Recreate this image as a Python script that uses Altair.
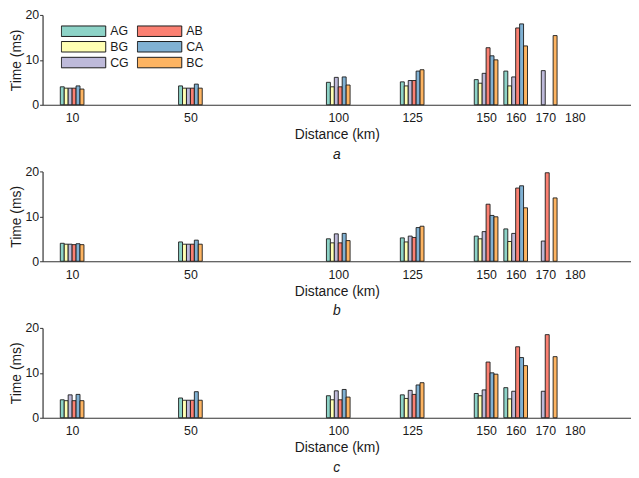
import altair as alt
import pandas as pd

distances = [10, 50, 100, 125, 150, 160, 170]
tick_values = [10, 50, 100, 125, 150, 160, 170, 180]
series = ["AG", "BG", "CG", "AB", "CA", "BC"]
colors = {"AG": "#8dd3c7", "BG": "#ffffb3", "CG": "#bebada",
          "AB": "#fb8072", "CA": "#80b1d3", "BC": "#fdb462"}

# panel a
a_AG = [4.0, 4.2, 5.0, 5.1, 5.6, 7.5, None]
a_BG = [3.7, 3.7, 4.0, 4.2, 4.8, 4.2, None]
a_CG = [3.7, 3.7, 6.1, 5.4, 7.0, 6.2, 7.6]
a_AB = [3.7, 3.7, 4.0, 5.4, 12.7, 17.1, None]
a_CA = [4.2, 4.6, 6.2, 7.5, 10.9, 18.0, None]
a_BC = [3.5, 3.7, 4.4, 7.8, 10.0, 13.1, 15.4]

# panel b
b_AG = [4.0, 4.3, 5.0, 5.2, 5.6, 7.2, None]
b_BG = [3.8, 3.8, 4.1, 4.3, 5.0, 4.4, None]
b_CG = [3.8, 3.8, 6.1, 5.6, 6.6, 6.2, 4.5]
b_AB = [3.7, 3.8, 4.1, 5.3, 12.7, 16.3, 19.7]
b_CA = [3.9, 4.7, 6.2, 7.5, 10.2, 16.8, None]
b_BC = [3.7, 3.8, 4.6, 7.8, 9.9, 11.9, 14.1]

# panel c
c_AG = [4.0, 4.4, 4.9, 5.1, 5.4, 6.7, None]
c_BG = [3.8, 3.9, 4.0, 4.3, 4.9, 4.2, None]
c_CG = [5.1, 3.9, 6.0, 6.1, 6.2, 5.9, 5.9]
c_AB = [3.8, 3.9, 4.0, 5.2, 12.4, 15.8, 18.5]
c_CA = [5.2, 5.8, 6.3, 7.3, 10.0, 13.4, None]
c_BC = [3.8, 3.9, 4.6, 7.8, 9.7, 11.6, 13.6]

panels = {
    "a": [a_AG, a_BG, a_CG, a_AB, a_CA, a_BC],
    "b": [b_AG, b_BG, b_CG, b_AB, b_CA, b_BC],
    "c": [c_AG, c_BG, c_CG, c_AB, c_CA, c_BC],
}

rows = []
for p, lists in panels.items():
    for si, (s, vals) in enumerate(zip(series, lists)):
        for d, v in zip(distances, vals):
            if v is not None:
                rows.append({"panel": p, "series": s, "idx": si, "dist": d, "value": v})
df = pd.DataFrame(rows)

FONT = "Liberation Sans"
INK = "#1a1a1a"
GROUP_W = 8.0
BAR_W = GROUP_W / len(series)


def panel(p, show_legend):
    legend = None
    if show_legend:
        legend = alt.Legend(
            orient="none", legendX=18.5, legendY=8.5, columns=2, title=None,
            symbolType="M-1,-0.236H1V0.236H-1Z", symbolSize=2025,
            symbolStrokeColor=INK, symbolStrokeWidth=1, symbolOpacity=1,
            clipHeight=15.5, rowPadding=0, columnPadding=8, labelOffset=4,
            labelFontSize=12.5, labelFont=FONT, labelColor=INK, padding=0,
        )
    base = alt.Chart(df[df.panel == p]).transform_calculate(
        x0=f"datum.dist - {GROUP_W/2} + datum.idx * {BAR_W}",
        x1=f"datum.dist - {GROUP_W/2} + (datum.idx + 1) * {BAR_W}",
    ).mark_bar(stroke=INK, strokeWidth=0.9, opacity=1).encode(
        x=alt.X("x0:Q", scale=alt.Scale(domain=[0, 199], nice=False, zero=False, padding=0),
                axis=alt.Axis(values=tick_values, ticks=False, grid=False,
                              title="Distance (km)", labelPadding=7, titlePadding=4,
                              labelFlush=False)),
        x2="x1:Q",
        y=alt.Y("value:Q", scale=alt.Scale(domain=[0, 20], nice=False, padding=0),
                axis=alt.Axis(values=[0, 10, 20], grid=False, title="Time (ms)",
                              tickSize=3, labelPadding=1, titlePadding=1)),
        y2=alt.datum(0),
        color=alt.Color("series:N", scale=alt.Scale(domain=series,
                        range=[colors[s] for s in series]), legend=legend),
    ).properties(
        width=596, height=91,
        title=alt.TitleParams(p, orient="bottom", fontStyle="italic", fontSize=14,
                              font=FONT, fontWeight="normal", color=INK,
                              anchor="middle", offset=6),
    )
    return base


chart = alt.vconcat(panel("a", True), panel("b", False), panel("c", False),
                    spacing=3.5).resolve_scale(color="independent").properties(
    padding={"left": 2, "top": -2, "right": 0, "bottom": 0}
).configure_axis(
    labelFont=FONT, titleFont=FONT, labelFontSize=12.5, titleFontSize=14,
    titleFontWeight="normal", labelColor=INK, titleColor=INK,
    domainColor="#333333", tickColor="#333333", domainWidth=1.2,
).configure_view(stroke=None)

chart.save("out.html", embed_options={"renderer": "svg", "actions": False})
